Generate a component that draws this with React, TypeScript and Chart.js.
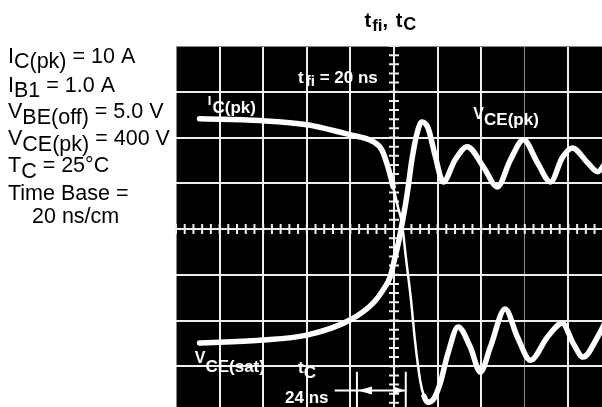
import React, { useEffect, useRef } from 'react';
import { Chart, registerables } from 'chart.js';

Chart.register(...registerables);

// Horizontal: time in divisions (20 ns/div), vertical: screen divisions (8 div)
const X_DIVISIONS = 10;
const Y_DIVISIONS = 8;

// Collector current trace I_C
const icX = [0.54, 1.92, 3.0, 3.99, 4.52, 4.72, 4.86, 4.98, 5.09, 5.18, 5.28, 5.39, 5.48, 5.6, 5.69, 5.78, 5.92, 6.06, 6.24, 6.47, 6.75, 6.98, 7.21, 7.55, 7.83, 8.13, 8.52, 8.86, 9.11, 9.34, 9.67, 9.85];
const icY = [6.41, 6.37, 6.28, 6.06, 5.91, 5.73, 5.36, 4.92, 4.48, 4.13, 3.32, 2.45, 1.57, 0.69, 0.34, 0.21, 0.3, 0.63, 1.29, 1.86, 1.42, 0.87, 1.42, 2.25, 1.64, 1.13, 1.64, 1.94, 1.5, 1.2, 1.64, 1.97];

// Collector-emitter voltage trace V_CE
const vceX = [0.54, 1.92, 3.0, 3.99, 4.52, 4.75, 4.91, 5.02, 5.09, 5.18, 5.3, 5.41, 5.53, 5.64, 5.78, 5.94, 6.13, 6.4, 6.68, 7.05, 7.37, 7.67, 7.97, 8.29, 8.59, 8.86, 9.09, 9.44, 9.67, 9.87];
const vceY = [1.51, 1.57, 1.68, 2.01, 2.38, 2.67, 2.95, 3.37, 3.65, 4.09, 4.75, 5.51, 6.1, 6.34, 6.21, 5.62, 5.03, 5.51, 5.8, 5.36, 4.92, 5.51, 5.95, 5.45, 5.03, 5.56, 5.77, 5.45, 5.25, 5.47];

// Measurement marker for t_c (24 ns = 1.2 div)
const tcStart = 4.15;
const tcEnd = 5.27;

const FONT = "'Liberation Sans', Arial, Helvetica, sans-serif";

type Part = [string, number, number, number?]; // text, dy, size, dx

function drawRich(ctx: CanvasRenderingContext2D, x: number, y: number, parts: Part[], weight: string, color: string) {
  ctx.fillStyle = color;
  ctx.textBaseline = 'alphabetic';
  ctx.textAlign = 'left';
  let cx = x;
  for (const [t, dy, size, dx] of parts) {
    cx += dx || 0;
    ctx.font = `${weight} ${size}px ${FONT}`;
    ctx.fillText(t, cx, y + dy);
    cx += ctx.measureText(t).width;
  }
}

const CS = 21.5;
const conditionLines: Part[][] = [
  [['I', 0, CS], ['C(pk)', 5, CS], [' = 10 A', 0, CS]],
  [['I', 0, CS], ['B1', 5, CS], [' = 1.0 A', 0, CS]],
  [['V', 0, CS], ['BE(off)', 6, CS], [' = 5.0 V', 0, CS]],
  [['V', 0, CS], ['CE(pk)', 6, CS], [' = 400 V', 0, CS]],
  [['T', 0, CS], ['C', 6, CS], [' = 25°C', 0, CS]],
  [['Time Base =', 0, CS]],
  [['20 ns/cm', 0, CS, 24]],
];
const conditionBaselines = [63, 92, 118, 145, 172, 200, 223];

const scopePlugin = {
  id: 'scope',
  beforeDraw(chart: any) {
    const { ctx, chartArea: a } = chart;
    ctx.save();
    ctx.fillStyle = '#fff';
    ctx.fillRect(0, 0, chart.width, chart.height);
    ctx.fillStyle = '#000';
    ctx.fillRect(a.left, a.top, a.right - a.left, a.bottom - a.top);
    ctx.restore();
  },
  beforeDatasetsDraw(chart: any) {
    const { ctx } = chart;
    const xs = chart.scales.x;
    const ys = chart.scales.y;
    const cx = xs.getPixelForValue(X_DIVISIONS / 2);
    const cy = ys.getPixelForValue(Y_DIVISIONS / 2);
    ctx.save();
    ctx.strokeStyle = '#eee';
    ctx.lineWidth = 2;
    ctx.beginPath();
    for (let i = 0; i <= X_DIVISIONS * 5; i++) {
      const px = xs.getPixelForValue(i / 5);
      ctx.moveTo(px, cy - 5);
      ctx.lineTo(px, cy + 5);
    }
    for (let i = 0; i <= Y_DIVISIONS * 5; i++) {
      const py = ys.getPixelForValue(i / 5);
      ctx.moveTo(cx - 5, py);
      ctx.lineTo(cx + 5, py);
    }
    ctx.stroke();
    ctx.restore();
  },
  afterDatasetsDraw(chart: any) {
    const { ctx } = chart;
    const xs = chart.scales.x;
    const ys = chart.scales.y;
    const X = (v: number) => xs.getPixelForValue(v);
    const Y = (v: number) => ys.getPixelForValue(v);
    ctx.save();
    // in-plot labels
    drawRich(ctx, X(0.73), Y(6.7), [['I', 0, 13], ['C(pk)', 8, 17, 1]], 'bold', '#fff');
    drawRich(ctx, X(2.8), Y(7.2), [['t', 0, 17], ['fi', 3, 15, 2], [' = 20 ns', 0, 17]], 'bold', '#fff');
    drawRich(ctx, X(6.82), Y(6.4), [['V', 0, 16], ['CE(pk)', 6, 17]], 'bold', '#fff');
    drawRich(ctx, X(0.43), Y(1.07), [['V', 0, 16], ['CE(sat)', 9, 17]], 'bold', '#fff');
    drawRich(ctx, X(2.8), Y(0.85), [['t', 0, 17], ['C', 5, 17]], 'bold', '#fff');
    drawRich(ctx, X(2.5), Y(0.2), [['24 ns', 0, 17]], 'bold', '#fff');

    // t_c dimension marker
    const x1 = X(tcStart);
    const x2 = X(tcEnd);
    const ly = Y(0.47);
    ctx.strokeStyle = '#fff';
    ctx.fillStyle = '#fff';
    ctx.lineWidth = 2;
    ctx.beginPath();
    ctx.moveTo(X(3.64), ly);
    ctx.lineTo(x2, ly);
    ctx.moveTo(x1, Y(0.88));
    ctx.lineTo(x1, Y(0));
    ctx.moveTo(x2, Y(0.88));
    ctx.lineTo(x2, Y(0));
    ctx.stroke();
    ctx.beginPath();
    ctx.moveTo(x1 + 1, ly);
    ctx.lineTo(x1 + 15, ly - 4);
    ctx.lineTo(x1 + 15, ly + 4);
    ctx.closePath();
    ctx.fill();
    ctx.beginPath();
    ctx.moveTo(x2 - 1, ly);
    ctx.lineTo(x2 - 12, ly - 4);
    ctx.lineTo(x2 - 12, ly + 4);
    ctx.closePath();
    ctx.fill();

    // title
    const tc = X(X_DIVISIONS / 2);
    drawRich(ctx, tc - 29.5, 27, [['t', 0, 20], ['fi', 4, 17, 1], [',', 0, 20], [' t', 0, 20, 2], ['C', 3, 18, 1]], 'bold', '#000');

    // test conditions
    conditionLines.forEach((parts, i) => {
      drawRich(ctx, 8, conditionBaselines[i], parts, 'normal', '#000');
    });
    ctx.restore();
  },
};

export default function App() {
  const ref = useRef<HTMLCanvasElement | null>(null);
  useEffect(() => {
    if (!ref.current) return;
    const isEdge = (c: any) => c.tick && (c.tick.value === 0 || c.tick.value === X_DIVISIONS || c.tick.value === Y_DIVISIONS);
    const gridWidth = (c: any) => (isEdge(c) ? 1 : 2);
    const gridColor = (c: any) => (isEdge(c) ? '#888' : '#eee');
    const chart = new Chart(ref.current, {
      type: 'scatter',
      data: {
        datasets: [
          {
            label: 'I_C',
            data: icX.map((x, i) => ({ x, y: icY[i] })),
            showLine: true,
            borderColor: '#fff',
            borderWidth: 5.5,
            borderCapStyle: 'round',
            borderJoinStyle: 'round',
            pointRadius: 0,
            cubicInterpolationMode: 'monotone',
            segment: {
              borderWidth: (s: any) => {
                const slope = Math.abs(s.p1.y - s.p0.y) / Math.max(0.01, Math.abs(s.p1.x - s.p0.x));
                return slope > 3.9 ? 2.5 : undefined;
              },
            },
          } as any,
          {
            label: 'V_CE',
            data: vceX.map((x, i) => ({ x, y: vceY[i] })),
            showLine: true,
            borderColor: '#fff',
            borderWidth: 5.5,
            borderCapStyle: 'round',
            borderJoinStyle: 'round',
            pointRadius: 0,
            cubicInterpolationMode: 'monotone',
          } as any,
        ],
      },
      options: {
        animation: false,
        responsive: false,
        maintainAspectRatio: false,
        layout: { padding: { left: 176, top: 46, right: 8, bottom: 8 } },
        plugins: { legend: { display: false }, tooltip: { enabled: false }, title: { display: false } },
        scales: {
          x: {
            type: 'linear',
            min: 0,
            max: X_DIVISIONS,
            ticks: { display: false, stepSize: 1 },
            grid: { color: gridColor, lineWidth: gridWidth, drawTicks: false },
            border: { display: false },
          },
          y: {
            type: 'linear',
            min: 0,
            max: Y_DIVISIONS,
            ticks: { display: false, stepSize: 1 },
            grid: { color: gridColor, lineWidth: gridWidth, drawTicks: false },
            border: { display: false },
          },
        },
      } as any,
      plugins: [scopePlugin],
    });
    return () => chart.destroy();
  }, []);
  return (
    <div style={{ position: 'absolute', left: 0, top: 0, width: 602, height: 407, overflow: 'hidden', background: '#fff' }}>
      <canvas ref={ref} width={620} height={420} style={{ display: 'block', width: 620, height: 420 }} />
    </div>
  );
}
